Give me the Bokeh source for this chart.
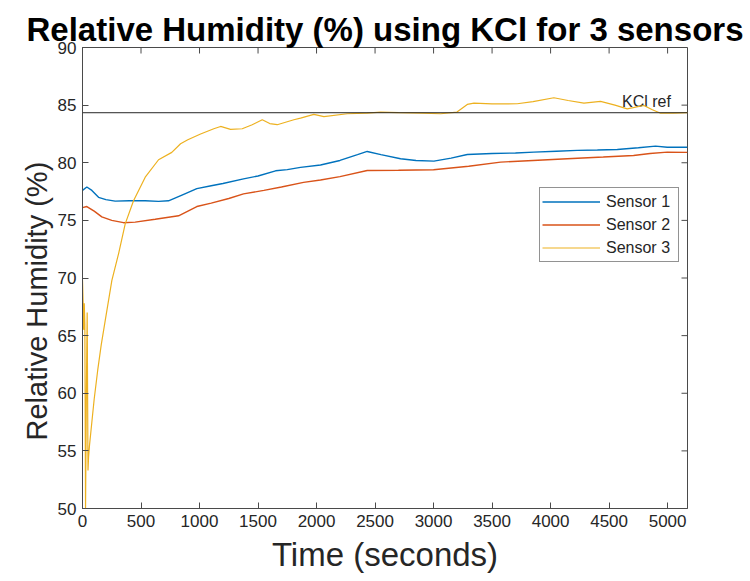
from bokeh.plotting import figure
from bokeh.models import Range1d, SingleIntervalTicker, Legend, LegendItem, Span, Title
from bokeh.core.properties import value
from bokeh.embed import file_html
from bokeh.resources import INLINE

# ---- data ----
t1 = [0, 37, 80, 137, 200, 279, 400, 536, 650, 735, 850, 977, 1100, 1200, 1376, 1500, 1650, 1750,
      1863, 2034, 2200, 2350, 2433, 2550, 2718, 2850, 3003, 3150, 3288, 3500, 3700, 3857, 4050,
      4228, 4400, 4570, 4750, 4897, 4997, 5170]
s1 = [77.6, 77.9, 77.6, 77.0, 76.8, 76.67, 76.7, 76.7, 76.65, 76.7, 77.2, 77.75, 78.0, 78.2, 78.6,
      78.85, 79.3, 79.4, 79.6, 79.8, 80.2, 80.7, 80.98, 80.7, 80.35, 80.2, 80.14, 80.4, 80.72, 80.8,
      80.85, 80.92, 81.0, 81.07, 81.1, 81.15, 81.3, 81.44, 81.35, 81.35]

t2 = [0, 37, 100, 165, 250, 350, 450, 621, 821, 977, 1100, 1250, 1376, 1550, 1700, 1889, 2034,
      2200, 2433, 2700, 3000, 3300, 3573, 3850, 4143, 4450, 4709, 4850, 4997, 5170]
s2 = [76.1, 76.2, 75.8, 75.3, 75.0, 74.8, 74.85, 75.1, 75.4, 76.2, 76.5, 76.9, 77.3, 77.6, 77.9,
      78.3, 78.5, 78.8, 79.33, 79.35, 79.39, 79.7, 80.05, 80.2, 80.35, 80.5, 80.63, 80.8, 80.92, 80.9]

t3 = [0, 5, 10, 15, 20, 26, 33, 40, 47, 52, 60, 80, 100, 130, 160, 194, 251, 308, 365, 436, 536,
      650, 763, 838, 900, 1009, 1122, 1180, 1265, 1365, 1450, 1536, 1600, 1664, 1806, 1863, 1977,
      2063, 2262, 2433, 2547, 2700, 2900, 3060, 3200, 3288, 3345, 3500, 3715, 3850, 4028, 4150,
      4285, 4427, 4550, 4655, 4797, 4870, 4940, 5050, 5170]
s3 = [69.8, 68.0, 65.5, 67.8, 66.0, 50.0, 60.0, 67.0, 53.3, 54.5, 55.5, 57.5, 59.5, 62.0, 64.2,
      66.3, 69.8, 72.1, 74.7, 76.7, 78.75, 80.26, 80.9, 81.65, 82.0, 82.5, 82.95, 83.15, 82.9,
      82.95, 83.3, 83.73, 83.4, 83.3, 83.73, 83.87, 84.2, 84.0, 84.25, 84.3, 84.4, 84.35, 84.3,
      84.25, 84.4, 85.06, 85.17, 85.1, 85.12, 85.3, 85.64, 85.4, 85.17, 85.32, 85.0, 84.68, 84.97,
      84.6, 84.3, 84.3, 84.35]

kcl_ref = 84.34
kcl_label = "KCl ref"
series_names = ["Sensor 1", "Sensor 2", "Sensor 3"]
colors = ["#0072BD", "#D95319", "#EDB120"]

x_ticks = [0, 500, 1000, 1500, 2000, 2500, 3000, 3500, 4000, 4500, 5000]
y_ticks = [50, 55, 60, 65, 70, 75, 80, 85, 90]
x_max = 5170
y_min, y_max = 50, 90

FONT = "Liberation Sans"
AX = "#4a4a4a"
TXT = "#262626"
W, H = 750, 581
BL, BR, BT, BB = 82, 63, 47, 73
TICK = 6  # px

p = figure(width=W, height=H, output_backend="svg", toolbar_location=None,
           x_range=Range1d(0, x_max), y_range=Range1d(y_min, y_max),
           min_border_left=BL, min_border_right=BR, min_border_top=BT, min_border_bottom=BB,
           title="Relative Humidity (%) using KCl for 3 sensors")
p.background_fill_color = "white"
p.border_fill_color = "white"
p.grid.visible = False
p.outline_line_color = AX
p.outline_line_width = 1

p.title.text_font = FONT
p.title.text_font_size = "33px"
p.title.text_font_style = "bold"
p.title.text_color = "black"
p.title.align = "center"
p.title.standoff = 0

p.xaxis.ticker = SingleIntervalTicker(interval=500, num_minor_ticks=0)
p.yaxis.ticker = SingleIntervalTicker(interval=5, num_minor_ticks=0)

for ax in (p.xaxis[0], p.yaxis[0]):
    ax.axis_line_color = AX
    ax.major_tick_line_color = AX
    ax.major_tick_in = TICK
    ax.major_tick_out = 0
    ax.minor_tick_line_color = None
    ax.major_label_text_font = FONT
    ax.major_label_text_font_size = "17px"
    ax.major_label_text_color = TXT
    ax.axis_label_text_font = FONT
    ax.axis_label_text_font_style = "normal"
    ax.axis_label_text_color = TXT

p.xaxis.axis_label = "Time (seconds)"
p.xaxis.axis_label_text_font_size = "33px"
p.xaxis.major_label_standoff = 6
p.xaxis.axis_label_standoff = 6
p.yaxis.major_label_standoff = 6

ylab = Title(text="Relative Humidity (%)", align="left", offset=68,
             text_font=FONT, text_font_size="29px", text_font_style="normal",
             text_color=TXT, standoff=4)
p.add_layout(ylab, "left")

# inward ticks on the top and right edges (box style)
fw, fh = W - BL - BR, H - BT - BB
dy = TICK * (y_max - y_min) / fh
dx = TICK * x_max / fw
p.segment(x0=x_ticks, y0=[y_max] * len(x_ticks), x1=x_ticks, y1=[y_max - dy] * len(x_ticks),
          line_color=AX, line_width=1)
p.segment(x0=[x_max] * len(y_ticks), y0=y_ticks, x1=[x_max - dx] * len(y_ticks), y1=y_ticks,
          line_color=AX, line_width=1)

# reference line
p.add_layout(Span(location=kcl_ref, dimension="width", line_color="#262626", line_width=1))
p.text(x=[4610], y=[kcl_ref + 0.95], text=[kcl_label], text_font=value(FONT),
       text_font_size="16px", text_color=TXT, text_baseline="alphabetic", text_align="left")

r1 = p.line(t1, s1, line_color=colors[0], line_width=1.4)
r2 = p.line(t2, s2, line_color=colors[1], line_width=1.4)
r3 = p.line(t3, s3, line_color=colors[2], line_width=1.2)

legend = Legend(items=[LegendItem(label=series_names[0], renderers=[r1]),
                       LegendItem(label=series_names[1], renderers=[r2]),
                       LegendItem(label=series_names[2], renderers=[r3])],
                location=(457, 246))
legend.border_line_color = "#262626"
legend.border_line_width = 1
legend.background_fill_color = "white"
legend.padding = 2
legend.spacing = 0
legend.margin = 0
legend.glyph_width = 58
legend.glyph_height = 23
legend.label_height = 23
legend.label_width = 70
legend.label_standoff = 6
legend.label_text_font = FONT
legend.label_text_font_size = "16px"
legend.label_text_color = TXT
p.add_layout(legend, "center")

open("out.html", "w").write(file_html(p, INLINE))
